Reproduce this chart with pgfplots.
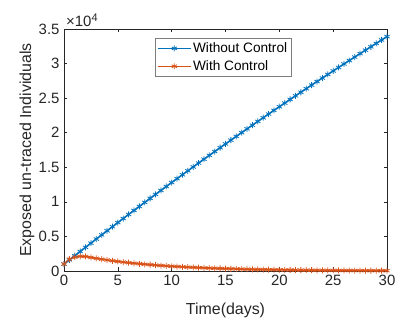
\documentclass[border=0pt]{standalone}
\usepackage{pgfplots}
\pgfplotsset{compat=1.18}
\usepackage{fontspec}
\setmainfont{Liberation Sans}
\definecolor{mblue}{rgb}{0,0.447,0.741}
\definecolor{morange}{rgb}{0.85,0.325,0.098}
\definecolor{axgray}{rgb}{0.15,0.15,0.15}

\pgfplotstableread{
t v
0 1000
0.5 1609
1 2216
1.5 2821
2 3424
2.5 4025
3 4624
3.5 5221
4 5816
4.5 6409
5 6999
5.5 7588
6 8174
6.5 8759
7 9341
7.5 9921
8 10500
8.5 11076
9 11650
9.5 12222
10 12792
10.5 13360
11 13926
11.5 14490
12 15051
12.5 15611
13 16169
13.5 16724
14 17278
14.5 17829
15 18378
15.5 18926
16 19471
16.5 20014
17 20555
17.5 21094
18 21631
18.5 22166
19 22699
19.5 23229
20 23758
20.5 24285
21 24809
21.5 25332
22 25852
22.5 26370
23 26887
23.5 27401
24 27913
24.5 28423
25 28931
25.5 29437
26 29941
26.5 30443
27 30943
27.5 31440
28 31936
28.5 32430
29 32921
29.5 33411
30 33898
}\nocontrol

\pgfplotstableread{
t v
0 1000
0.5 1700
1 2000
1.5 2120
2 2100
2.5 1958
3 1826
3.5 1702
4 1587
4.5 1480
5 1380
5.5 1287
6 1200
6.5 1119
7 1043
7.5 973
8 907
8.5 846
9 788
9.5 735
10 685
10.5 639
11 596
11.5 555
12 518
12.5 483
13 450
13.5 420
14 391
14.5 365
15 340
15.5 317
16 296
16.5 276
17 257
17.5 240
18 223
18.5 208
19 194
19.5 181
20 169
20.5 157
21 147
21.5 137
22 127
22.5 119
23 111
23.5 103
24 96
24.5 90
25 84
25.5 78
26 73
26.5 68
27 63
27.5 59
28 55
28.5 51
29 48
29.5 45
30 42
}\withcontrol

\begin{document}
\begin{tikzpicture}
\path[use as bounding box] (-64bp,-49bp) rectangle (344bp,271bp);
\begin{axis}[
    scale only axis,
    width=323bp, height=242bp,
    xmin=0, xmax=30, ymin=0, ymax=35000,
    scaled x ticks=false, scaled y ticks=false,
    xtick={0,5,10,15,20,25,30},
    xticklabels={0,5,10,15,20,25,30},
    ytick={0,5000,10000,15000,20000,25000,30000,35000},
    yticklabels={0,0.5,1,1.5,2,2.5,3,3.5},
    tick align=inside,
    major tick length=3.5bp,
    axis line style={axgray, line width=0.5pt},
    tick style={axgray, line width=0.5pt},
    ticklabel style={font=\fontsize{15}{16}\selectfont, text=axgray},
    yticklabel style={xshift=-1bp},
    xticklabel style={yshift=-1bp},
    xlabel={Time(days)},
    ylabel={Exposed un-traced Individuals},
    label style={font=\fontsize{16}{17}\selectfont, text=axgray},
    xlabel style={at={(axis description cs:0.5,-0.178)}, anchor=base},
    ylabel style={at={(axis description cs:-0.1146,0.5)}, anchor=center},
    legend style={at={(0.281,0.963)}, anchor=north west, draw=axgray!60,
        line width=0.5pt, font=\fontsize{13.7}{15}\selectfont,
        row sep=2.5bp, inner sep=2.5bp, cells={anchor=west}},
    legend image code/.code={
        \draw[#1, mark=none, line width=0.6pt] (0bp,0bp) -- (33bp,0bp);
        \draw[#1, only marks] plot coordinates {(16.5bp,0bp)};
    },
]
\addplot[color=mblue, mark=asterisk, mark size=3bp, line width=1.6pt,
    mark options={line width=0.8pt}] table[x=t, y=v] {\nocontrol};
\addlegendentry{Without Control}
\addplot[color=morange, mark=asterisk, mark size=3bp, line width=1.6pt,
    mark options={line width=0.8pt}] table[x=t, y=v] {\withcontrol};
\addlegendentry{With Control}
\end{axis}
\node[anchor=base west, text=axgray, font=\fontsize{15}{16}\selectfont, inner sep=0pt]
    at (2bp,244bp) {×10\raisebox{5.5bp}{\fontsize{11}{12}\selectfont 4}};
\end{tikzpicture}
\end{document}
